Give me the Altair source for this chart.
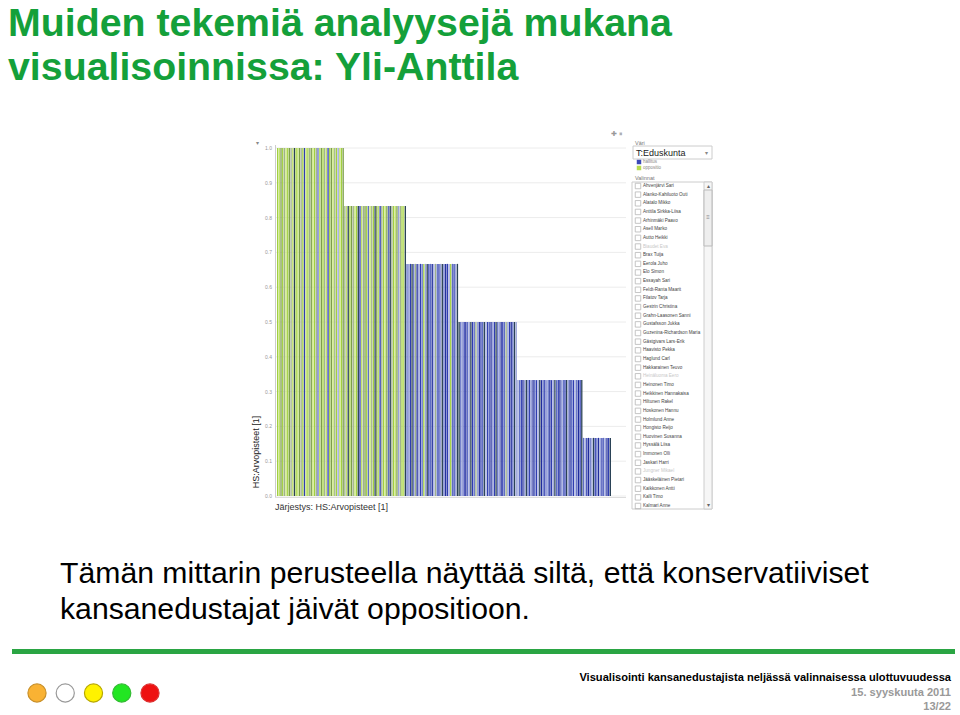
import altair as alt
import pandas as pd

# ---------------- data ----------------
title_lines = ["Muiden tekemiä analyysejä mukana", "visualisoinnissa: Yli-Anttila"]
body_lines = ["Tämän mittarin perusteella näyttää siltä, että konservatiiviset",
              "kansanedustajat jäivät oppositioon."]
footer_title = "Visualisointi kansanedustajista neljässä valinnaisessa ulottuvuudessa"
footer_date = "15. syyskuuta 2011"
footer_page = "13/22"

y_title = "HS:Arvopisteet [1]"
x_title = "Järjestys: HS:Arvopisteet [1]"

# score level of each group of MPs (sorted descending)
level_values = [1.0, 0.833, 0.667, 0.5, 0.333, 0.167]
# colour code of each bar in each group (one letter per MP)
group_colors = [
    "GLOGSLGOSLNGLOSGBLGSOLGSMLOGSLBGOLSGPLGO",
    "SLNGOSLGNBLSOGMLSGNOLBSGLOMNSGLOPSGLN",
    "MPBNMSDPBMGPNBMDPSMBPNMDBPGMBPN",
    "NMPBDMPNBMSPDBMNPBMDPBNMPDBMSPBDMNP",
    "PMBDPNMBPDMBPNDMBPMDBPNMBDPMBNPDMBPMDBN",
    "MPBDMPNBMDPBMPDBN",
]
color_codes = ["L", "G", "O", "S", "N", "B", "M", "P", "D"]
color_hex = ["#c2e36c", "#a2d040", "#7d9f4a", "#9fb18c", "#2a4256",
             "#2f3db0", "#5f6ec4", "#99a3da", "#202c9c"]

tick_values = [0.0, 0.1, 0.2, 0.3, 0.4, 0.5, 0.6, 0.7, 0.8, 0.9, 1.0]

legend_labels = ["hallitus", "oppositio"]
legend_colors = ["#3a48b8", "#b8dc50"]

mp_names = ["Ahvenjärvi Sari", "Alanko-Kahiluoto Outi", "Alatalo Mikko", "Anttila Sirkka-Liisa",
            "Arhinmäki Paavo", "Asell Marko", "Autto Heikki", "Biaudet Eva", "Brax Tuija",
            "Eerola Juho", "Elo Simon", "Essayah Sari", "Feldt-Ranta Maarit", "Filatov Tarja",
            "Gestrin Christina", "Grahn-Laasonen Sanni", "Gustafsson Jukka",
            "Guzenina-Richardson Maria", "Gästgivars Lars-Erik", "Haavisto Pekka",
            "Haglund Carl", "Hakkarainen Teuvo", "Heinäluoma Eero", "Heinonen Timo",
            "Heikkinen Hannakaisa", "Hiltunen Rakel", "Hoskonen Hannu", "Holmlund Anne",
            "Hongisto Reijo", "Huovinen Susanna", "Hyssälä Liisa", "Immonen Olli",
            "Jaskari Harri", "Jungner Mikael", "Jääskeläinen Pietari", "Kaikkonen Antti",
            "Kalli Timo", "Kalmari Anne"]
mp_grey = [7, 22, 33]

dot_fill = ["#f9b233", "#ffffff", "#fff200", "#22e622", "#ee1111"]
dot_stroke = ["#c8902a", "#999999", "#b8a800", "#33bb33", "#dd3333"]

# ---------------- build tables ----------------
rows = []
i = 0
for v, s in zip(level_values, group_colors):
    for ch in s:
        rows.append({"i": i, "v": v, "c": ch})
        i += 1
bars = pd.DataFrame(rows)
ticks = pd.DataFrame({"t": tick_values})
names = pd.DataFrame({"r": list(range(len(mp_names))), "name": mp_names,
                      "grey": [k in mp_grey for k in range(len(mp_names))]})
one = pd.DataFrame({"a": [0]})

FONT = "Liberation Sans"
GREEN = "#14a03a"

yscale = alt.Scale(domain=[0, 1], range=[496, 148])


def txt(s, x, y, size, color, weight="normal", align="left", angle=0, baseline="alphabetic"):
    return alt.Chart(one).mark_text(
        text=s, align=align, baseline=baseline, fontSize=size, color=color,
        fontWeight=weight, font=FONT, angle=angle
    ).encode(x=alt.value(x), y=alt.value(y))


def box(x, x2, y, y2, fill="#ffffff", stroke="#bbbbbb", sw=1):
    return alt.Chart(one).mark_rect(fill=fill, stroke=stroke, strokeWidth=sw).encode(
        x=alt.value(x), x2=alt.value(x2), y=alt.value(y), y2=alt.value(y2))


layers = []

# title
layers.append(txt(title_lines[0], 8, 36, 39.3, GREEN, "bold"))
layers.append(txt(title_lines[1], 8, 80, 39.3, GREEN, "bold"))

# chart grid
grid = alt.Chart(ticks).mark_rule(color="#ececec", strokeWidth=1).encode(
    x=alt.value(276), x2=alt.value(626),
    y=alt.Y("t:Q", scale=yscale, axis=None))
layers.append(grid)

# y axis line
layers.append(alt.Chart(one).mark_rule(color="#cccccc").encode(
    x=alt.value(275.5), y=alt.value(145), y2=alt.value(498)))
layers.append(alt.Chart(one).mark_rule(color="#dddddd").encode(
    x=alt.value(275), x2=alt.value(626), y=alt.value(497.5)))

# tick labels
layers.append(alt.Chart(ticks).mark_text(align="right", baseline="middle", fontSize=5,
                                         color="#999999", font=FONT).encode(
    x=alt.value(272), y=alt.Y("t:Q", scale=yscale, axis=None),
    text=alt.Text("t:Q", format=".1f")))

# bars
layers.append(alt.Chart(bars).mark_bar().encode(
    x=alt.X("i:O", scale=alt.Scale(range=[277, 611], paddingInner=0.22, paddingOuter=0), axis=None),
    y=alt.Y("v:Q", scale=yscale, axis=None),
    color=alt.Color("c:N", scale=alt.Scale(domain=color_codes, range=color_hex), legend=None)))

# axis titles
layers.append(txt(y_title, 259, 452, 9, "#222222", angle=270, align="center"))
layers.append(txt(x_title, 275, 510, 9, "#333333"))
layers.append(txt("▾", 257, 143, 6, "#888888", align="center", baseline="middle"))
layers.append(txt("✚ ⏸", 617, 134, 7, "#999999", align="center", baseline="middle"))

# right panel
layers.append(txt("Väri", 635, 143, 5.5, "#777777", baseline="middle"))
layers.append(box(633, 712, 146, 159, stroke="#cccccc"))
layers.append(txt("T:Eduskunta", 636, 152.5, 9, "#222222", baseline="middle"))
layers.append(txt("▾", 706, 153, 6, "#888888", align="center", baseline="middle"))
leg = pd.DataFrame({"k": [0, 1], "lab": legend_labels, "col": legend_colors})
legscale = alt.Scale(domain=[0, 1], range=[162, 168])
layers.append(alt.Chart(leg).mark_square(size=20, opacity=1).encode(
    x=alt.value(639), y=alt.Y("k:Q", scale=legscale, axis=None),
    color=alt.Color("col:N", scale=None)))
layers.append(alt.Chart(leg).mark_text(align="left", baseline="middle", fontSize=4.5,
                                       color="#888888", font=FONT).encode(
    x=alt.value(643), y=alt.Y("k:Q", scale=legscale, axis=None), text="lab:N"))
layers.append(txt("Valinnat", 635, 178, 5.5, "#777777", baseline="middle"))
layers.append(box(632, 712, 182, 509, stroke="#cccccc"))
layers.append(box(704, 712, 182, 509, fill="#f6f6f6", stroke="#cccccc"))
layers.append(box(704, 712, 190, 246, fill="#eeeeee", stroke="#bbbbbb"))
layers.append(txt("▴", 708, 186, 6, "#666666", align="center", baseline="middle"))
layers.append(txt("≡", 708, 217, 6, "#888888", align="center", baseline="middle"))
layers.append(txt("▾", 708, 505, 6, "#666666", align="center", baseline="middle"))

rowscale = alt.Scale(domain=[0, len(mp_names) - 1], range=[186, 506])
layers.append(alt.Chart(names).mark_square(size=30, filled=False, color="#999999",
                                           strokeWidth=0.8).encode(
    x=alt.value(638), y=alt.Y("r:Q", scale=rowscale, axis=None)))
layers.append(alt.Chart(names).mark_text(align="left", baseline="middle", fontSize=4.6,
                                         font=FONT).encode(
    x=alt.value(643), y=alt.Y("r:Q", scale=rowscale, axis=None), text="name:N",
    color=alt.condition("datum.grey", alt.value("#c8c8c8"), alt.value("#444444"))))

# body text
layers.append(txt(body_lines[0], 60, 583, 30.2, "#000000"))
layers.append(txt(body_lines[1], 60, 619, 30.2, "#000000"))

# green line
layers.append(alt.Chart(one).mark_rect(color="#2aa543").encode(
    x=alt.value(12), x2=alt.value(955), y=alt.value(649), y2=alt.value(654)))

# footer
layers.append(txt(footer_title, 951, 681, 11.1, "#000000", "bold", align="right"))
layers.append(txt(footer_date, 951, 696, 11.1, "#999999", "bold", align="right"))
layers.append(txt(footer_page, 951, 710, 11.1, "#999999", "bold", align="right"))

# dots
dots = pd.DataFrame({"k": list(range(len(dot_fill))), "f": dot_fill, "s": dot_stroke})
layers.append(alt.Chart(dots).mark_point(shape="circle", filled=True, size=330, opacity=1,
                                         strokeWidth=1.2).encode(
    x=alt.X("k:Q", scale=alt.Scale(domain=[0, 4], range=[37, 150]), axis=None),
    y=alt.value(693),
    fill=alt.Fill("f:N", scale=None), stroke=alt.Stroke("s:N", scale=None)))

chart = alt.layer(*layers).resolve_scale(
    x="independent", y="independent", color="independent"
).properties(
    width=960, height=715, padding=0,
    autosize=alt.AutoSizeParams(type="none"),
    background="#ffffff"
).configure_view(stroke=None)

chart.save("out.html", embed_options={"renderer": "svg", "actions": False})
